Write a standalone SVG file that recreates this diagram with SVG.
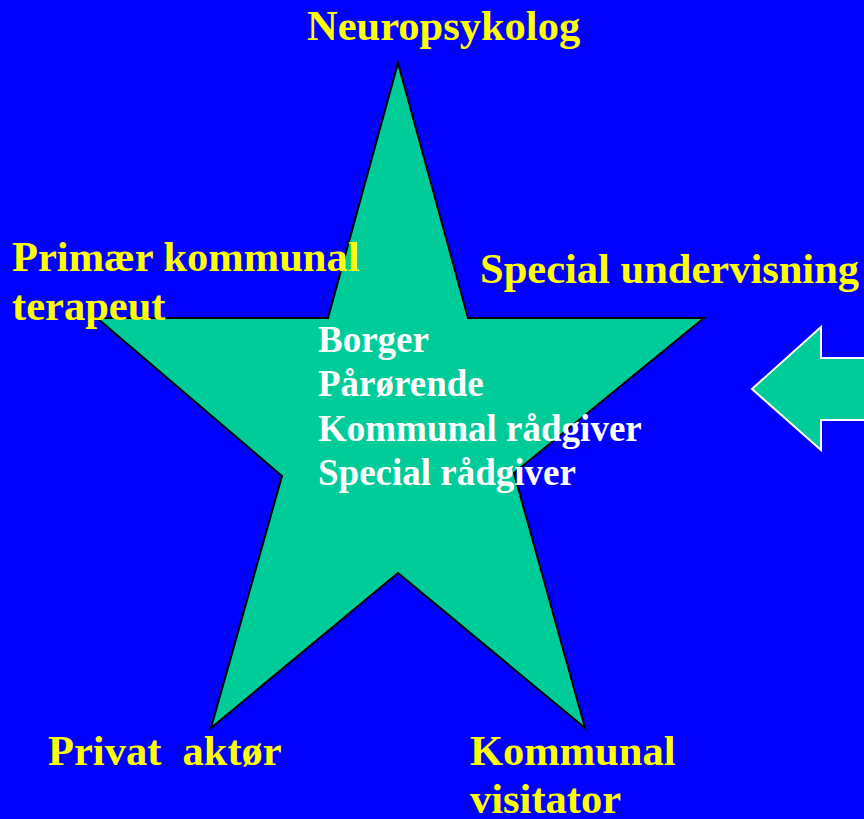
<svg xmlns="http://www.w3.org/2000/svg" width="864" height="819" viewBox="0 0 864 819">
<style>
.bg{fill:#0000FF}
.star{fill:#00CC99;stroke:#000;stroke-width:2;stroke-linejoin:miter}
.arrow{fill:#00CC99;stroke:#FFFFFF;stroke-width:2}
.y{font-family:"Liberation Serif","Times New Roman",serif;font-weight:bold;font-size:42.5px;fill:#FFFF00;white-space:pre}
.w{font-family:"Liberation Serif","Times New Roman",serif;font-weight:bold;font-size:37px;fill:#FFFFFF}
</style>
<rect class="bg" x="0" y="0" width="864" height="819"/>
<g id="star">
<polygon class="star" points="398,63 468,318 704,318 514,473 585,728 398,573 211,728 282,476 97,318 328,318"/>
<text class="w" x="318" y="352">Borger</text>
<text class="w" x="318" y="396">Pårørende</text>
<text class="w" x="318" y="441">Kommunal rådgiver</text>
<text class="w" x="318" y="485">Special rådgiver</text>
</g>
<g id="connectors">
<polygon class="arrow" points="752,389 821,327 821,358 866,358 866,420 821,420 821,450"/>
</g>
<g id="neuropsykolog"><text class="y" x="307" y="40">Neuropsykolog</text></g>
<g id="primaer"><text class="y" x="12" y="271">Primær kommunal</text><text class="y" x="12" y="320">terapeut</text></g>
<g id="special"><text class="y" x="480" y="283">Special undervisning</text></g>
<g id="privat"><text class="y" x="48" y="765">Privat  aktør</text></g>
<g id="kommunal"><text class="y" x="470" y="765">Kommunal</text><text class="y" x="470" y="813">visitator</text></g>
</svg>
